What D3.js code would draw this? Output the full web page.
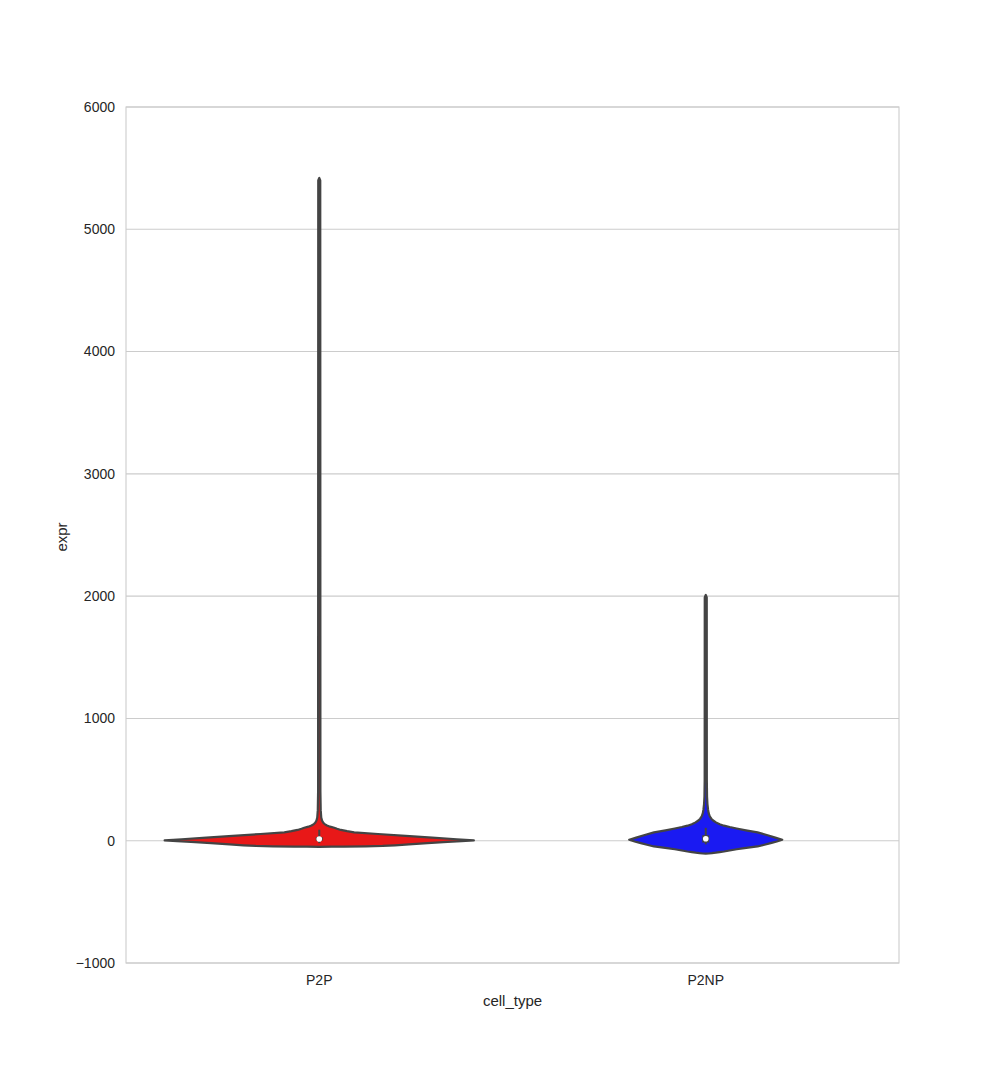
<!DOCTYPE html>
<html>
<head>
<meta charset="utf-8">
<script src="https://cdn.jsdelivr.net/npm/d3@7"></script>
<style>
  body { margin: 0; background: #fff; }
  text { font-family: "Liberation Sans", Arial, sans-serif; fill: #262626; }
</style>
</head>
<body>
<svg id="chart" width="998" height="1071"></svg>
<script>
// categories and colours
var cellTypes = ["P2P", "P2NP"];
var fills = ["#e81818", "#1a1af2"];
var yTicks = [-1000, 0, 1000, 2000, 3000, 4000, 5000, 6000];

// violin profiles: [expr, relative density]
var p2pDensity = [
  [-50, 0], [-49, 0.08], [-48, 0.16], [-46, 0.3], [-43, 0.41], [-38, 0.49],
  [-30, 0.58], [-20, 0.7], [-10, 0.83], [-3, 0.92], [3, 1.0], [12, 0.89],
  [25, 0.73], [40, 0.56], [55, 0.38], [68, 0.226], [78, 0.18], [88, 0.14],
  [98, 0.115], [106, 0.097], [115, 0.07], [125, 0.05], [136, 0.035],
  [147, 0.026], [165, 0.018], [190, 0.013], [250, 0.0095], [400, 0.0075],
  [5400, 0.0065], [5420, 0]
];
var p2npDensity = [
  [-106, 0], [-104.5, 0.02], [-102, 0.04], [-98, 0.065], [-93, 0.09],
  [-88, 0.118], [-80, 0.155], [-70, 0.2], [-60, 0.25], [-47, 0.335],
  [-33, 0.38], [-20, 0.42], [-6, 0.46], [8, 0.495], [25, 0.45], [45, 0.4],
  [68, 0.335], [85, 0.26], [100, 0.2], [112, 0.155], [123, 0.118],
  [135, 0.09], [150, 0.066], [165, 0.048], [180, 0.036], [200, 0.026],
  [225, 0.019], [254, 0.015], [300, 0.011], [360, 0.0085], [500, 0.007],
  [1990, 0.0065], [2010, 0]
];
var densities = [p2pDensity, p2npDensity];

// inner box stats: [whisker low, q1, median, q3, whisker high]
var boxStats = [
  [-20, 0, 14, 30, 90],
  [-30, -15, 16, 45, 105]
];

(function() {
  var svg = d3.select("#chart");
  var left = 126, right = 899, plotTop = 107, plotBottom = 963;

  var x = d3.scaleBand().domain(cellTypes).range([left, right]).padding(0);
  var y = d3.scaleLinear().domain([-1000, 6000]).range([plotBottom, plotTop]);
  var halfWidth = d3.scaleLinear().domain([0, 1]).range([0, x.bandwidth() * 0.4]);

  // grid
  svg.append("g")
    .selectAll("line")
    .data(yTicks)
    .join("line")
    .attr("x1", left).attr("x2", right)
    .attr("y1", function(d) { return y(d); })
    .attr("y2", function(d) { return y(d); })
    .attr("stroke", "#cccccc")
    .attr("stroke-width", 1.1);

  // frame
  svg.append("rect")
    .attr("x", left).attr("y", plotTop)
    .attr("width", right - left).attr("height", plotBottom - plotTop)
    .attr("fill", "none")
    .attr("stroke", "#cccccc")
    .attr("stroke-width", 1.1);

  // y tick labels
  svg.append("g")
    .selectAll("text")
    .data(yTicks)
    .join("text")
    .attr("x", left - 11)
    .attr("y", function(d) { return y(d); })
    .attr("dy", "0.35em")
    .attr("text-anchor", "end")
    .style("font-size", "14px")
    .text(function(d) { return String(d).replace("-", "\u2212"); });

  // x tick labels
  svg.append("g")
    .selectAll("text")
    .data(cellTypes)
    .join("text")
    .attr("x", function(d) { return x(d) + x.bandwidth() / 2; })
    .attr("y", plotBottom + 17)
    .attr("dy", "0.35em")
    .attr("text-anchor", "middle")
    .style("font-size", "14px")
    .text(function(d) { return d; });

  // axis labels
  svg.append("text")
    .attr("x", (left + right) / 2)
    .attr("y", 1001)
    .attr("dy", "0.35em")
    .attr("text-anchor", "middle")
    .style("font-size", "15px")
    .text("cell_type");

  svg.append("text")
    .attr("transform", "translate(62," + ((plotTop + plotBottom) / 2 + 2) + ") rotate(-90)")
    .attr("dy", "0.35em")
    .attr("text-anchor", "middle")
    .style("font-size", "15px")
    .text("expr");

  // violins
  cellTypes.forEach(function(c, i) {
    var cx = x(c) + x.bandwidth() / 2;
    var area = d3.area()
      .y(function(d) { return y(d[0]); })
      .x0(function(d) { return cx - halfWidth(d[1]); })
      .x1(function(d) { return cx + halfWidth(d[1]); })
      .curve(d3.curveLinear);

    svg.append("path")
      .datum(densities[i])
      .attr("d", area)
      .attr("fill", fills[i])
      .attr("stroke", "#444444")
      .attr("stroke-width", 2.2)
      .attr("stroke-linejoin", "round");

    var s = boxStats[i];
    svg.append("line")
      .attr("x1", cx).attr("x2", cx)
      .attr("y1", y(s[0])).attr("y2", y(s[4]))
      .attr("stroke", "#444444")
      .attr("stroke-width", 2);
    svg.append("line")
      .attr("x1", cx).attr("x2", cx)
      .attr("y1", y(s[1])).attr("y2", y(s[3]))
      .attr("stroke", "#444444")
      .attr("stroke-width", 7);
    svg.append("circle")
      .attr("cx", cx)
      .attr("cy", y(s[2]))
      .attr("r", 2.8)
      .attr("fill", "#ffffff");
  });
})();
</script>
</body>
</html>
